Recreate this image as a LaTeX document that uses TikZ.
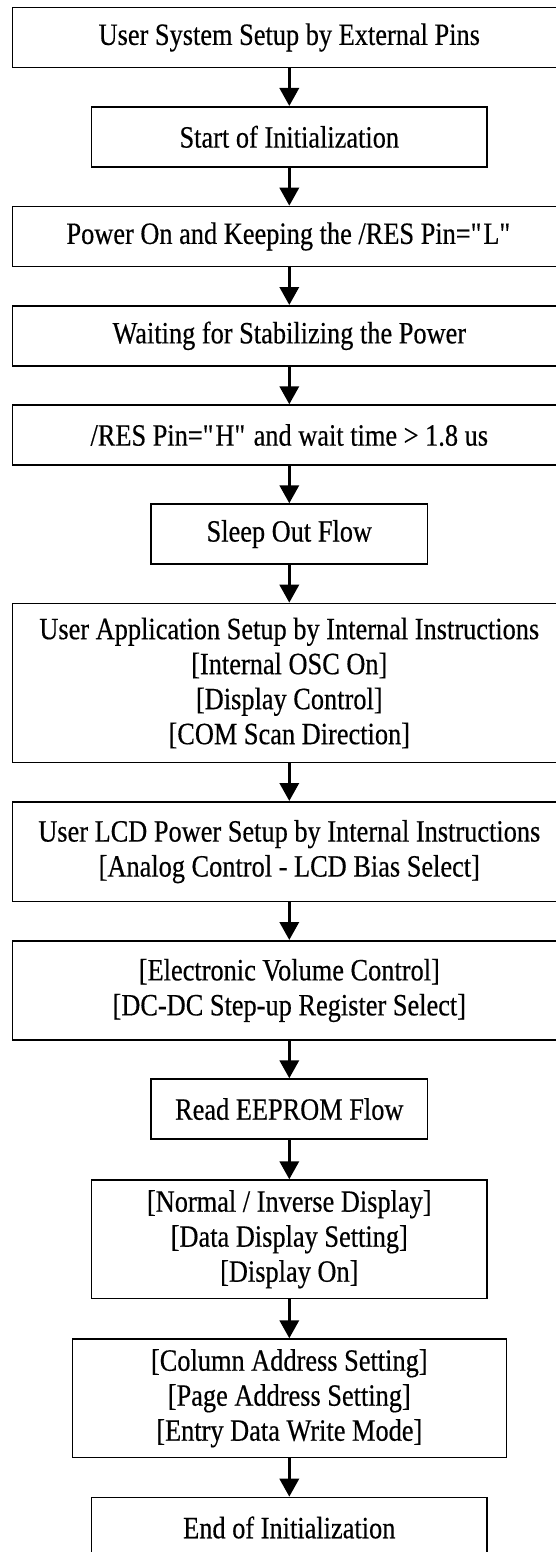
\documentclass[tikz,border=0pt]{standalone}
\usepackage{fontspec}
\setmainfont{Liberation Serif}[FakeStretch=0.85,FakeBold=0.4]
\usetikzlibrary{arrows.meta}
\begin{document}
\begin{tikzpicture}[x=1pt,y=-1pt,
  box/.style={draw,line width=1.6pt,anchor=north,align=center,inner sep=0pt,
    font=\fontsize{31}{35}\selectfont},
  wide/.style={box,minimum width=553.3pt},
  mid/.style={box,minimum width=395.3pt},
  narrow/.style={box,minimum width=276.3pt},
  colbox/.style={box,minimum width=434pt},
  conn/.style={line width=3.4pt,-{Triangle[width=19pt,length=18pt]}}]
\useasboundingbox (0,0) rectangle (556,1552);
\clip (0,0) rectangle (556,1552);
\fill[white] (0,0) rectangle (556,1552);
\node[wide,minimum height=60pt] (n1) at (289.3,6.7) {User System Setup by External Pins};
\node[mid,minimum height=60pt] (n2) at (289.3,106) {Start of Initialization};
\node[wide,minimum height=60pt] (n3) at (289.3,205.7) {Power On and Keeping the /RES Pin=\textquotedbl L\textquotedbl};
\node[wide,minimum height=60pt] (n4) at (289.3,305) {Waiting for Stabilizing the Power};
\node[wide,minimum height=60pt] (n5) at (289.3,404.3) {/RES Pin=\textquotedbl H\textquotedbl{} and wait time > 1.8 us};
\node[narrow,minimum height=60pt] (n6) at (289.3,503.3) {Sleep Out Flow};
\node[wide,minimum height=159pt] (n7) at (289.3,602.7) {User Application Setup by Internal Instructions\\{[Internal OSC On]}\\{[Display Control]}\\{[COM Scan Direction]}};
\node[wide,minimum height=99.7pt] (n8) at (289.3,801) {User LCD Power Setup by Internal Instructions\\{[Analog Control - LCD Bias Select]}};
\node[wide,minimum height=99.3pt] (n9) at (289.3,940) {{[Electronic Volume Control]}\\{[DC-DC Step-up Register Select]}};
\node[narrow,minimum height=60pt] (n10) at (289.3,1078.3) {Read EEPROM Flow};
\node[mid,minimum height=118.4pt] (n11) at (289.3,1179.3) {{[Normal / Inverse Display]}\\{[Data Display Setting]}\\{[Display On]}};
\node[colbox,minimum height=118.4pt] (n12) at (289.3,1338.3) {{[Column Address Setting]}\\{[Page Address Setting]}\\{[Entry Data Write Mode]}};
\node[mid,minimum height=60pt] (n13) at (289.3,1496.7) {End of Initialization};
\foreach \a/\b in {n1/n2,n2/n3,n3/n4,n4/n5,n5/n6,n6/n7,n7/n8,n8/n9,n9/n10,n10/n11,n11/n12,n12/n13}
  \draw[conn] (\a.south) -- (\b.north);
\end{tikzpicture}
\end{document}
